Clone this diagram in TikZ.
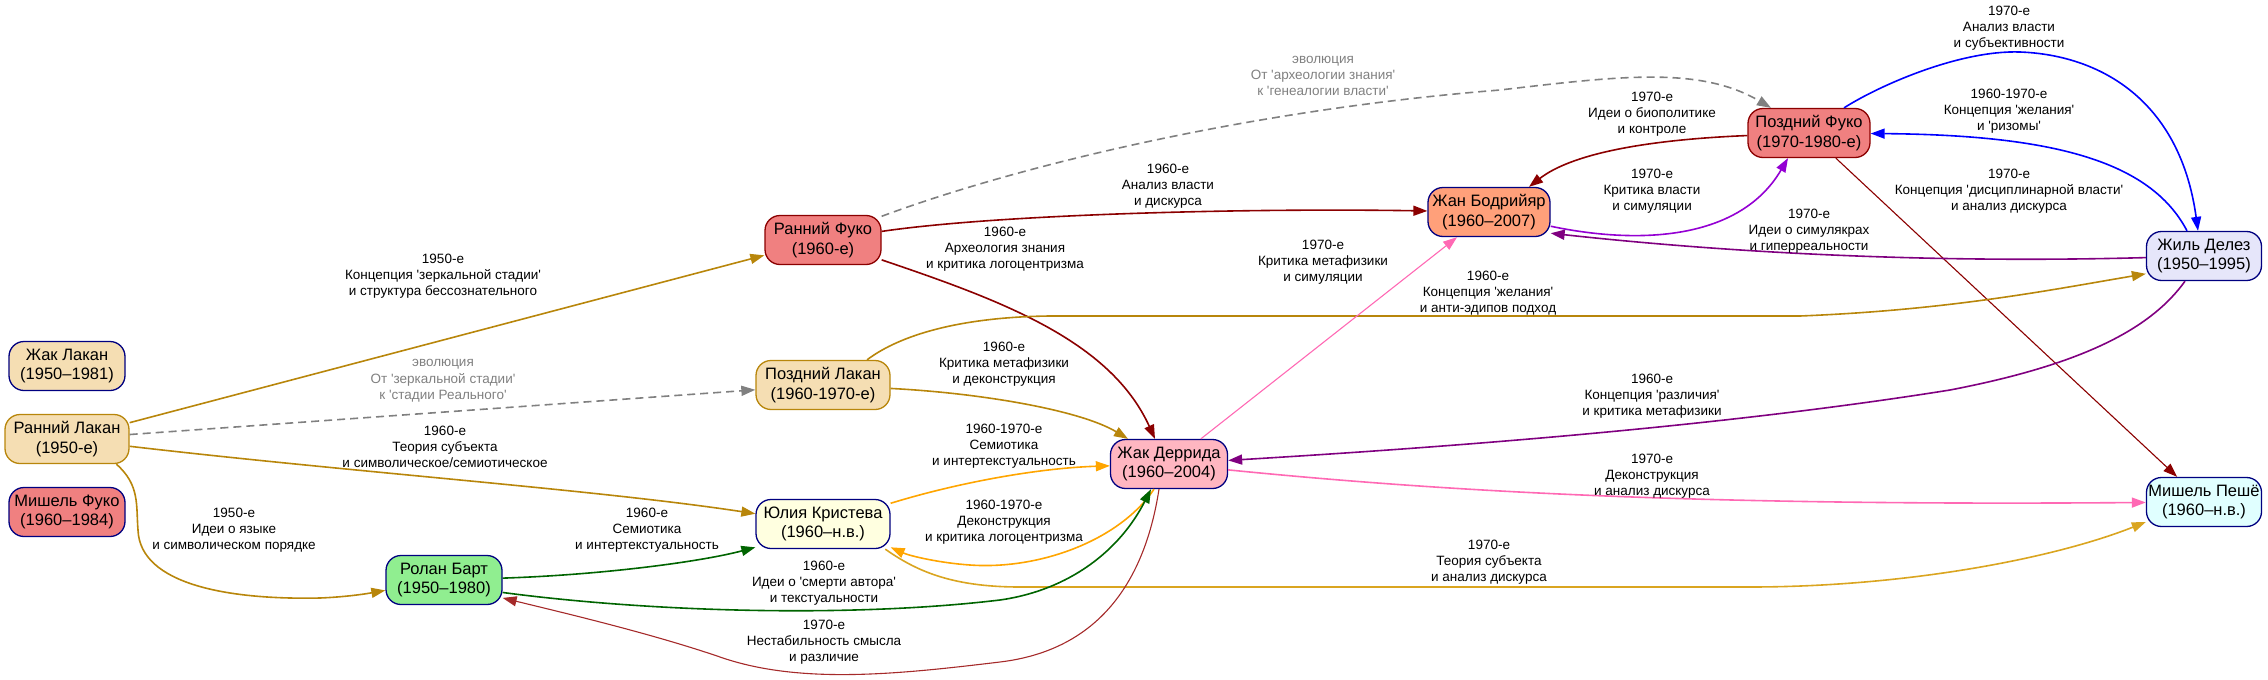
\documentclass[tikz,border=0pt]{standalone}
\usepackage{fontspec}
\setmainfont{Liberation Sans}
\usetikzlibrary{arrows.meta}
\definecolor{navyb}{HTML}{000080}
\definecolor{wheatc}{HTML}{F5DEB3}
\definecolor{coralc}{HTML}{F08080}
\definecolor{greenc}{HTML}{90EE90}
\definecolor{yellowc}{HTML}{FFFFE0}
\definecolor{pinkc}{HTML}{FFB6C1}
\definecolor{salmonc}{HTML}{FFA07A}
\definecolor{lavc}{HTML}{E6E6FA}
\definecolor{cyanc}{HTML}{E0FFFF}
\definecolor{dgold}{HTML}{B8860B}
\definecolor{gold}{HTML}{DAA520}
\definecolor{dred}{HTML}{8B0000}
\definecolor{dviolet}{HTML}{9400D3}
\definecolor{purp}{HTML}{800080}
\definecolor{hpink}{HTML}{FF69B4}
\definecolor{orng}{HTML}{FFA500}
\definecolor{dgreen}{HTML}{006400}
\definecolor{brwn}{HTML}{A52A2A}
\definecolor{evogray}{HTML}{808080}
\newcommand{\sq}{\textquotesingle}
\begin{document}
\begin{tikzpicture}[x=1pt,y=-1pt,
  person/.style={draw=navyb, line width=1.3pt, rounded corners=15pt, minimum height=49pt,
    inner xsep=2pt, inner ysep=2pt, align=center, font=\fontsize{16.5}{19.5}\selectfont},
  lab/.style={align=center, font=\fontsize{13.5}{16.3}\selectfont, inner sep=0pt},
  evolab/.style={lab, text=evogray},
  conn/.style={line width=1.6pt, -{Triangle[length=14pt,width=10pt]}},
  thin/.style={line width=1.1pt},
  evo/.style={conn, draw=evogray, dash pattern=on 8pt off 5pt},
]
\path[use as bounding box] (0,0) rectangle (2268,680);

% nodes
\node[person, fill=wheatc, minimum width=116pt] (jl) at (67,366) {Жак Лакан\\(1950–1981)};
\node[person, fill=wheatc, draw=dgold, minimum width=124pt] (rl) at (67,439) {Ранний Лакан\\(1950-е)};
\node[person, fill=coralc, minimum width=116pt] (mf) at (67,512) {Мишель Фуко\\(1960–1984)};
\node[person, fill=greenc, minimum width=116pt] (rb) at (444,580) {Ролан Барт\\(1950–1980)};
\node[person, fill=coralc, draw=dred, minimum width=116pt] (rf) at (823,240) {Ранний Фуко\\(1960-е)};
\node[person, fill=wheatc, draw=dgold, minimum width=134pt] (pl) at (823,385) {Поздний Лакан\\(1960-1970-е)};
\node[person, fill=yellowc, minimum width=134pt] (jk) at (823,524) {Юлия Кристева\\(1960–н.в.)};
\node[person, fill=pinkc, minimum width=117pt] (jd) at (1169,464) {Жак Деррида\\(1960–2004)};
\node[person, fill=salmonc, minimum width=122pt] (jb) at (1489,212) {Жан Бодрийяр\\(1960–2007)};
\node[person, fill=coralc, draw=dred, minimum width=122pt] (pf) at (1809,133) {Поздний Фуко\\(1970-1980-е)};
\node[person, fill=lavc, minimum width=115pt] (gd) at (2204,256) {Жиль Делез\\(1950–1995)};
\node[person, fill=cyanc, minimum width=115pt] (mp) at (2204,502) {Мишель Пешё\\(1960–н.в.)};

% edges
\draw[conn, draw=dgold] (rl) -- (rf);
\draw[evo] (rl) -- (pl);
\draw[conn, draw=dgold] (rl) .. controls (350,472) and (600,490) .. (jk);
\draw[conn, draw=dgold] (rl.-27) .. controls (140,485) and (136,505) .. (138,530)
  .. controls (140,585) and (230,600) .. (320,598) .. controls (345,597) and (365,594) .. (rb);
\draw[conn, draw=dred] (rf) .. controls (1000,214) and (1250,208) .. (jb);
\draw[conn, draw=dred] (rf) .. controls (1000,300) and (1110,340) .. ([xshift=-14pt]jd.north);
\draw[evo] (rf.22) .. controls (1020,165) and (1250,110) .. (1500,90)
  .. controls (1620,76) and (1700,66) .. ([xshift=-38pt]pf.north);
\draw[conn, draw=dred] (pf) .. controls (1640,140) and (1570,155) .. ([xshift=40pt]jb.north);
\draw[conn, draw=dviolet] (jb.-13) .. controls (1640,245) and (1740,240) .. ([xshift=-21pt]pf.south);
\draw[conn, draw=blue] ([xshift=35pt]pf.north) .. controls (1880,85) and (1960,50) .. (2020,52)
  .. controls (2100,55) and (2180,100) .. ([xshift=-6pt]gd.north);
\draw[conn, draw=blue] ([xshift=-17pt]gd.north) .. controls (2150,160) and (2050,135) .. (pf);
\draw[conn, thin, draw=dred] (pf) -- (mp);
\draw[conn, draw=purp] (gd) .. controls (1950,263) and (1750,255) .. (jb.-19);
\draw[conn, draw=purp] ([xshift=-19pt]gd.south) .. controls (2150,330) and (2080,365) .. (1950,390)
  .. controls (1700,430) and (1400,450) .. (jd);
\draw[conn, draw=dgold] ([xshift=44pt]pl.north) .. controls (900,335) and (960,317) .. (1050,316)
  -- (1800,316) .. controls (1950,310) and (2050,290) .. (gd.197);
\draw[conn, draw=dgold] (pl) .. controls (980,393) and (1080,410) .. ([xshift=-41pt]jd.north);
\draw[conn, thin, draw=hpink] (jd) -- (jb);
\draw[conn, draw=hpink] (jd) .. controls (1450,492) and (1700,506) .. (mp);
\draw[conn, draw=orng] (jk) .. controls (960,482) and (1040,468) .. (jd);
\draw[conn, draw=orng] ([xshift=-15pt]jd.south) .. controls (1120,540) and (1040,570) .. (970,565)
  .. controls (940,563) and (910,556) .. (jk.-19);
\draw[conn, draw=gold] (jk.-22) .. controls (915,570) and (950,587) .. (1020,587)
  -- (1750,587) .. controls (1900,587) and (2050,560) .. (mp.199);
\draw[conn, draw=dgreen] (rb) .. controls (600,575) and (700,562) .. (jk.199);
\draw[conn, draw=dgreen] (rb.-12) .. controls (650,612) and (850,618) .. (1000,600)
  .. controls (1070,590) and (1120,550) .. ([xshift=-18pt]jd.south);
\draw[conn, thin, draw=brwn] ([xshift=-10pt]jd.south) .. controls (1145,580) and (1100,650) .. (1000,662)
  .. controls (900,674) and (800,685) .. (720,657) .. controls (650,633) and (560,612) .. (rb.-17);

% labels
\node[lab] (l1) at (443,276) {1950-е\\Концепция \sq зеркальной стадии\sq\\и структура бессознательного};
\node[evolab] (l2) at (443,381) {эволюция\\От \sq зеркальной стадии\sq\\к \sq стадии Реального\sq};
\node[lab] (l3) at (445,447) {1960-е\\Теория субъекта\\и символическое/семиотическое};
\node[lab] (l4) at (234,530) {1950-е\\Идеи о языке\\и символическом порядке};
\node[lab] (l5) at (1168,186) {1960-е\\Анализ власти\\и дискурса};
\node[lab] (l6) at (1005,249) {1960-е\\Археология знания\\и критика логоцентризма};
\node[evolab] (l7) at (1323,76) {эволюция\\От \sq археологии знания\sq\\к \sq генеалогии власти\sq};
\node[lab] (l8) at (1652,114) {1970-е\\Идеи о биополитике\\и контроле};
\node[lab] (l9) at (1652,191) {1970-е\\Критика власти\\и симуляции};
\node[lab] (l10) at (2009,28) {1970-е\\Анализ власти\\и субъективности};
\node[lab] (l11) at (2009,111) {1960-1970-е\\Концепция \sq желания\sq\\и \sq ризомы\sq};
\node[lab] (l12) at (2009,191) {1970-е\\Концепция \sq дисциплинарной власти\sq\\и анализ дискурса};
\node[lab] (l13) at (1809,231) {1970-е\\Идеи о симулякрах\\и гиперреальности};
\node[lab] (l14) at (1652,396) {1960-е\\Концепция \sq различия\sq\\и критика метафизики};
\node[lab] (l15) at (1488,293) {1960-е\\Концепция \sq желания\sq\\и анти-эдипов подход};
\node[lab] (l16) at (1004,364) {1960-е\\Критика метафизики\\и деконструкция};
\node[lab] (l17) at (1323,262) {1970-е\\Критика метафизики\\и симуляции};
\node[lab] (l18) at (1652,476) {1970-е\\Деконструкция\\и анализ дискурса};
\node[lab] (l19) at (1004,446) {1960-1970-е\\Семиотика\\и интертекстуальность};
\node[lab] (l20) at (1004,522) {1960-1970-е\\Деконструкция\\и критика логоцентризма};
\node[lab] (l21) at (1489,562) {1970-е\\Теория субъекта\\и анализ дискурса};
\node[lab] (l22) at (647,530) {1960-е\\Семиотика\\и интертекстуальность};
\node[lab] (l23) at (824,583) {1960-е\\Идеи о \sq смерти автора\sq\\и текстуальности};
\node[lab] (l24) at (824,642) {1970-е\\Нестабильность смысла\\и различие};
\end{tikzpicture}
\end{document}
